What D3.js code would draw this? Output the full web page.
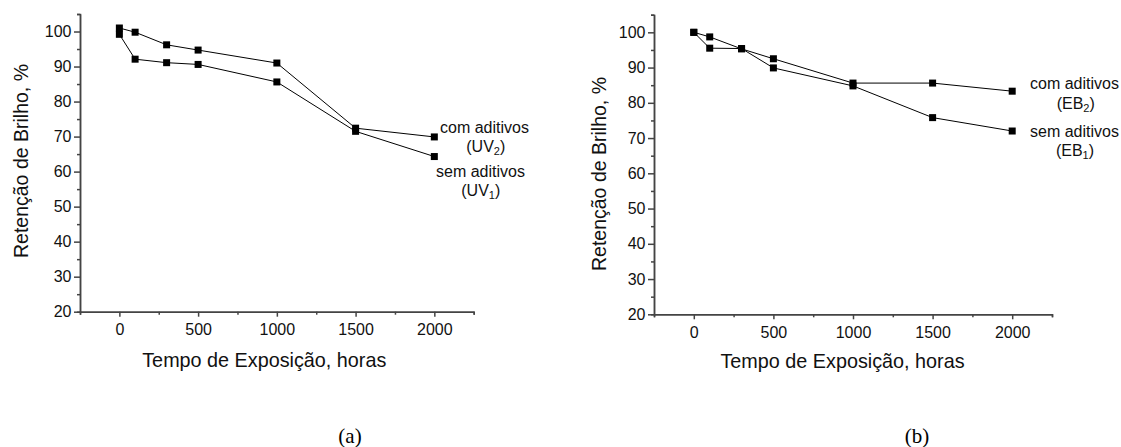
<!DOCTYPE html>
<html lang="pt">
  <head>
    <meta charset="UTF-8" />
    <title>Retenção de Brilho</title>
    <script src="https://d3js.org/d3.v7.min.js"></script>
    <style>
      body { margin: 0; background: #fff; }
      svg { display: block; font-family: "Liberation Sans", Arial, sans-serif; }
      .line { fill: none; stroke: #000; stroke-width: 1px; }
      .axis path, .axis line { stroke: #444; stroke-width: 1.5px; }
      .axis text { fill: #111; font-size: 16px; font-family: "Liberation Sans", Arial, sans-serif; }
    </style>
  </head>
  <body>
    <svg width="1121" height="447"></svg>
    <script>
      // tempo de exposição (horas)
      const tempo = [0, 100, 300, 500, 1000, 1500, 2000];

      // painel (a)
      const comUV2 = [101, 99.8, 96.2, 94.7, 91, 72.4, 69.9];
      const semUV1 = [99.2, 92.1, 91.1, 90.6, 85.6, 71.5, 64.3];

      // painel (b)
      const comEB2 = [100, 98.7, 95.3, 92.5, 85.6, 85.6, 83.3];
      const semEB1 = [100, 95.5, 95.4, 89.9, 84.8, 75.8, 72.0];

      const xTicks = [0, 500, 1000, 1500, 2000];
      const xMinor = [-250, 250, 750, 1250, 1750, 2250];
      const yTicks = [20, 30, 40, 50, 60, 70, 80, 90, 100];
      const yMinor = [25, 35, 45, 55, 65, 75, 85, 95, 105];

      const svg = d3.select("svg");

      const panels = [
        {
          label: "(a)", labelX: 350,
          left: 80, right: 473.7, top: 14, bottom: 311.7,
          yTitle: { x: 27.5, y: 161 }, xTitle: { x: 264.3, y: 367 },
          series: [
            { values: comUV2, name: "com aditivos", code: "UV", sub: "2",
              nx: 440, ny: 133, cx: 485.8, cy: 152 },
            { values: semUV1, name: "sem aditivos", code: "UV", sub: "1",
              nx: 436, ny: 176.5, cx: 480.8, cy: 195.5 },
          ],
        },
        {
          label: "(b)", labelX: 917,
          left: 654, right: 1052, top: 14.7, bottom: 314.3,
          yTitle: { x: 606, y: 174 }, xTitle: { x: 842.5, y: 367.5 },
          series: [
            { values: comEB2, name: "com aditivos", code: "EB", sub: "2",
              nx: 1030, ny: 89, cx: 1075.7, cy: 108.5 },
            { values: semEB1, name: "sem aditivos", code: "EB", sub: "1",
              nx: 1030, ny: 136.7, cx: 1075, cy: 155.5 },
          ],
        },
      ];

      panels.forEach((p) => {
        const X = d3.scaleLinear().domain([-250, 2250]).range([p.left, p.right]);
        const Y = d3.scaleLinear().domain([20, 105]).range([p.bottom, p.top]);

        const g = svg.append("g");

        // minor ticks first, then major axis with labels
        g.append("g")
          .attr("class", "axis")
          .attr("transform", `translate(0, ${p.bottom})`)
          .call(d3.axisBottom(X).tickValues(xMinor).tickSize(3).tickFormat(""));
        g.append("g")
          .attr("class", "axis")
          .attr("transform", `translate(0, ${p.bottom})`)
          .call(d3.axisBottom(X).tickValues(xTicks).tickSizeInner(5).tickSizeOuter(0).tickPadding(7).tickFormat(d3.format("d")));

        g.append("g")
          .attr("class", "axis")
          .attr("transform", `translate(${p.left}, 0)`)
          .call(d3.axisLeft(Y).tickValues(yMinor).tickSize(3).tickFormat(""));
        g.append("g")
          .attr("class", "axis")
          .attr("transform", `translate(${p.left}, 0)`)
          .call(d3.axisLeft(Y).tickValues(yTicks).tickSizeInner(6).tickSizeOuter(0).tickPadding(2.5).tickFormat(d3.format("d")));

        // axis titles
        g.append("text")
          .attr("transform", `translate(${p.yTitle.x}, ${p.yTitle.y}) rotate(-90)`)
          .attr("text-anchor", "middle")
          .style("font-size", "19.5px")
          .style("fill", "#111")
          .text("Retenção de Brilho, %");

        g.append("text")
          .attr("x", p.xTitle.x)
          .attr("y", p.xTitle.y)
          .attr("text-anchor", "middle")
          .style("font-size", "19.8px")
          .style("fill", "#111")
          .text("Tempo de Exposição, horas");

        const line = d3.line()
          .x((d, i) => X(tempo[i]))
          .y((d) => Y(d));

        p.series.forEach((s) => {
          g.append("path").datum(s.values).attr("class", "line").attr("d", line);

          g.selectAll(null)
            .data(s.values)
            .enter()
            .append("rect")
            .attr("x", (d, i) => X(tempo[i]) - 3.5)
            .attr("y", (d) => Y(d) - 3.5)
            .attr("width", 7)
            .attr("height", 7)
            .style("fill", "#000");

          g.append("text")
            .attr("x", s.nx)
            .attr("y", s.ny)
            .style("font-size", "16px")
            .style("fill", "#111")
            .text(s.name);

          const t = g.append("text")
            .attr("x", s.cx)
            .attr("y", s.cy)
            .attr("text-anchor", "middle")
            .style("font-size", "16px")
            .style("fill", "#111");
          t.append("tspan").text("(" + s.code);
          t.append("tspan").attr("dy", 3).style("font-size", "11px").text(s.sub);
          t.append("tspan").attr("dy", -3).text(")");
        });

        svg.append("text")
          .attr("x", p.labelX)
          .attr("y", 443)
          .attr("text-anchor", "middle")
          .style("font-family", "'Liberation Serif', 'Times New Roman', serif")
          .style("font-size", "21px")
          .style("fill", "#000")
          .text(p.label);
      });
    </script>
  </body>
</html>
